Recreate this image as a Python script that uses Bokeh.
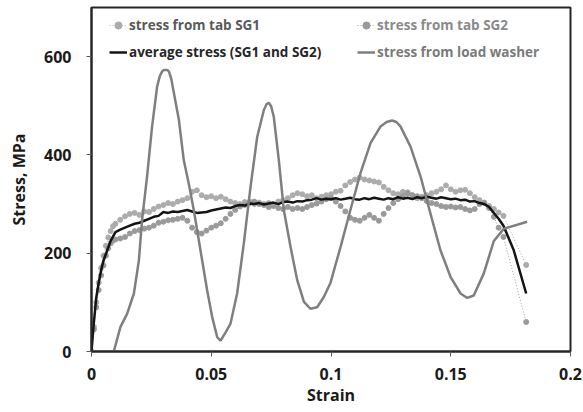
from bokeh.plotting import figure
from bokeh.models import Range1d, FixedTicker, NumeralTickFormatter, Legend, LegendItem
from bokeh.embed import file_html
from bokeh.resources import INLINE

# ---------------- data ----------------
strain_sg = [0, 0.001, 0.002, 0.003, 0.004, 0.005, 0.006, 0.007, 0.008, 0.009, 0.010,
             0.012, 0.014, 0.016, 0.018, 0.020, 0.022, 0.024, 0.026, 0.028, 0.030,
             0.032, 0.034, 0.036, 0.038, 0.040, 0.042, 0.044, 0.046, 0.048, 0.050,
             0.052, 0.054, 0.056, 0.058, 0.060, 0.062, 0.064, 0.066, 0.068, 0.070,
             0.072, 0.074, 0.076, 0.078, 0.080, 0.082, 0.084, 0.086, 0.088, 0.090,
             0.092, 0.094, 0.096, 0.098, 0.100, 0.102, 0.104, 0.106, 0.108, 0.110,
             0.112, 0.114, 0.116, 0.118, 0.120, 0.122, 0.124, 0.126, 0.128, 0.130,
             0.132, 0.134, 0.136, 0.138, 0.140, 0.142, 0.144, 0.146, 0.148, 0.150,
             0.152, 0.154, 0.156, 0.158, 0.160, 0.162, 0.164, 0.166, 0.168, 0.170,
             0.172, 0.1815]

stress_sg1 = [0, 50, 100, 140, 170, 195, 215, 232, 245, 255, 260,
              268, 275, 280, 282, 278, 285, 284, 290, 295, 298,
              302, 300, 305, 308, 312, 325, 328, 318, 314, 316,
              312, 315, 310, 305, 302, 300, 304, 305, 300, 303,
              300, 302, 298, 305, 308, 312, 318, 322, 320, 316,
              318, 312, 315, 318, 320, 325, 327, 338, 345, 350,
              354, 350, 348, 346, 344, 335, 328, 322, 320, 325,
              324, 318, 312, 315, 318, 322, 325, 330, 338, 330,
              325, 328, 329, 322, 314, 308, 302, 296, 290, 283,
              276, 176]

stress_sg2 = [0, 45, 90, 125, 155, 175, 195, 210, 220, 226, 228,
              230, 233, 240, 245, 247, 250, 252, 256, 262, 264,
              267, 268, 270, 272, 266, 252, 243, 240, 246, 252,
              256, 261, 270, 280, 288, 295, 298, 302, 305, 300,
              298, 294, 296, 292, 290, 294, 290, 292, 290, 294,
              298, 301, 305, 310, 312, 305, 296, 285, 272, 268,
              266, 272, 278, 272, 266, 280, 292, 302, 310, 316,
              322, 318, 316, 312, 306, 302, 300, 296, 294, 295,
              293, 294, 290, 287, 290, 300, 303, 292, 274, 252,
              233, 60]

strain_avg = [0, 0.001, 0.002, 0.003, 0.004, 0.005, 0.0065, 0.008, 0.010,
              0.012, 0.014, 0.016, 0.018, 0.020, 0.022, 0.024, 0.026, 0.028, 0.030,
              0.032, 0.034, 0.036, 0.038, 0.040, 0.042, 0.044, 0.046, 0.048, 0.050,
              0.052, 0.054, 0.056, 0.058, 0.060, 0.062, 0.064, 0.066, 0.068, 0.070,
              0.072, 0.074, 0.076, 0.078, 0.080, 0.082, 0.084, 0.086, 0.088, 0.090,
              0.092, 0.094, 0.096, 0.098, 0.100, 0.102, 0.104, 0.106, 0.108, 0.110,
              0.112, 0.114, 0.116, 0.118, 0.120, 0.122, 0.124, 0.126, 0.128, 0.130,
              0.132, 0.134, 0.136, 0.138, 0.140, 0.142, 0.144, 0.146, 0.148, 0.150,
              0.152, 0.154, 0.156, 0.158, 0.160, 0.162, 0.164, 0.166, 0.168, 0.170,
              0.172, 0.1763, 0.1815]

stress_avg = [0, 60, 110, 140, 165, 185, 205, 225, 243,
              248, 252, 256, 260, 262, 266, 270, 274, 276, 284,
              282, 285, 284, 286, 288, 285, 282, 283, 284, 287,
              289, 291, 293, 292, 296, 298, 297, 301, 300, 302,
              299, 301, 303, 300, 304, 305, 303, 306, 305, 308,
              309, 312, 309, 311, 310, 312, 309, 311, 313, 310,
              309, 312, 310, 313, 311, 309, 312, 310, 314, 311,
              313, 310, 314, 312, 315, 313, 311, 314, 312, 310,
              311, 308, 309, 305, 306, 302, 300, 294, 282, 270,
              256, 206, 118]

strain_washer = [0, 0.0093, 0.0121, 0.0149, 0.0177, 0.0198, 0.0211, 0.0232, 0.0253,
                 0.0274, 0.0285, 0.0295, 0.0302, 0.0309, 0.0316, 0.0323, 0.0333,
                 0.0344, 0.0365, 0.0385, 0.0406,
                 0.0427, 0.0455, 0.0483, 0.0504, 0.0525, 0.0539, 0.056, 0.058,
                 0.0608, 0.0636, 0.0664, 0.0692, 0.072, 0.0731, 0.074, 0.0750, 0.0761, 0.0782,
                 0.0803, 0.0831, 0.0859, 0.0887, 0.0914, 0.0942, 0.097, 0.0998,
                 0.104, 0.1081, 0.1123, 0.1165, 0.1207, 0.1232, 0.1255, 0.1273, 0.129, 0.1332,
                 0.1374, 0.1415, 0.1457, 0.1499, 0.1541, 0.1569, 0.1596, 0.1638,
                 0.168, 0.1722, 0.1819]

stress_washer = [0, 0, 50, 77, 118, 186, 267, 356, 458,
                 539, 560, 570, 573, 573, 573, 570, 555,
                 526, 471, 390, 342,
                 288, 206, 124, 70, 29, 22, 39, 56,
                 118, 220, 335, 437, 492, 503, 506, 499, 478, 390,
                 288, 213, 145, 101, 87, 90, 111, 140,
                 213, 288, 363, 424, 458, 467, 470, 467, 458, 417,
                 356, 281, 206, 152, 118, 109, 114, 159,
                 225, 250, 264]

x_ticks = [0, 0.05, 0.1, 0.15, 0.2]
y_ticks = [0, 200, 400, 600]

x_title = "Strain"
y_title = "Stress, MPa"
labels = ["stress from tab SG1", "stress from tab SG2",
          "average stress (SG1 and SG2)", "stress from load washer"]

# ---------------- figure ----------------
FONT = "Open Sans"
p = figure(width=583, height=412, output_backend="svg", toolbar_location=None,
           x_range=Range1d(0, 0.2), y_range=Range1d(0, 700),
           min_border_left=91, min_border_right=13, min_border_top=7, min_border_bottom=61)
p.background_fill_color = "white"
p.border_fill_color = "white"
p.xgrid.visible = False
p.ygrid.visible = False
p.outline_line_color = "#262626"
p.outline_line_width = 2

for ax in (p.xaxis[0], p.yaxis[0]):
    ax.axis_line_color = "#262626"
    ax.axis_line_width = 2
    ax.major_tick_line_color = "#595959"
    ax.major_tick_in = 0
    ax.major_tick_out = 5
    ax.minor_tick_line_color = None
    ax.major_label_text_font = FONT
    ax.major_label_text_font_style = "bold"
    ax.major_label_text_font_size = "16px"
    ax.major_label_text_color = "#1a1a1a"
    ax.axis_label_text_font = FONT
    ax.axis_label_text_font_style = "bold"
    ax.axis_label_text_font_size = "16px"
    ax.axis_label_text_color = "#1a1a1a"

p.xaxis.ticker = FixedTicker(ticks=x_ticks)
p.xaxis.formatter = NumeralTickFormatter(format="0.[00]")
p.yaxis.ticker = FixedTicker(ticks=y_ticks)
p.xaxis.axis_label = x_title
p.yaxis.axis_label = y_title
p.xaxis.major_label_standoff = 11
p.xaxis.axis_label_standoff = 1
p.yaxis.major_label_standoff = 15
p.yaxis.axis_label_standoff = 11

c1 = "#acacac"
c2 = "#9a9a9a"
r1l = p.line(strain_sg, stress_sg1, line_color=c1, line_width=1, line_dash="1 2")
r1m = p.scatter(strain_sg, stress_sg1, size=5, fill_color=c1, line_color=c1)
r2l = p.line(strain_sg, stress_sg2, line_color=c2, line_width=1, line_dash="1 2")
r2m = p.scatter(strain_sg, stress_sg2, size=5, fill_color=c2, line_color=c2)
ra = p.line(strain_avg, stress_avg, line_color="#141414", line_width=2.5)
rw = p.line(strain_washer, stress_washer, line_color="#7f7f7f", line_width=2.5)

def mk_legend(label, rends, loc, color):
    lg = Legend(items=[LegendItem(label=label, renderers=rends)], location=loc,
                padding=0, margin=0, spacing=0, glyph_width=18, glyph_height=20,
                label_height=20, label_standoff=2, border_line_color=None,
                background_fill_alpha=0,
                label_text_font=FONT, label_text_font_style="bold",
                label_text_font_size="13.5px", label_text_color=color)
    p.add_layout(lg)

mk_legend(labels[0], [r1l, r1m], (18, 316), "#595959")
mk_legend(labels[1], [r2l, r2m], (266, 316), "#8a8a8a")
mk_legend(labels[2], [ra], (18, 289), "#262626")
mk_legend(labels[3], [rw], (266, 289), "#7a7a7a")

open("out.html", "w").write(file_html(p, INLINE))
